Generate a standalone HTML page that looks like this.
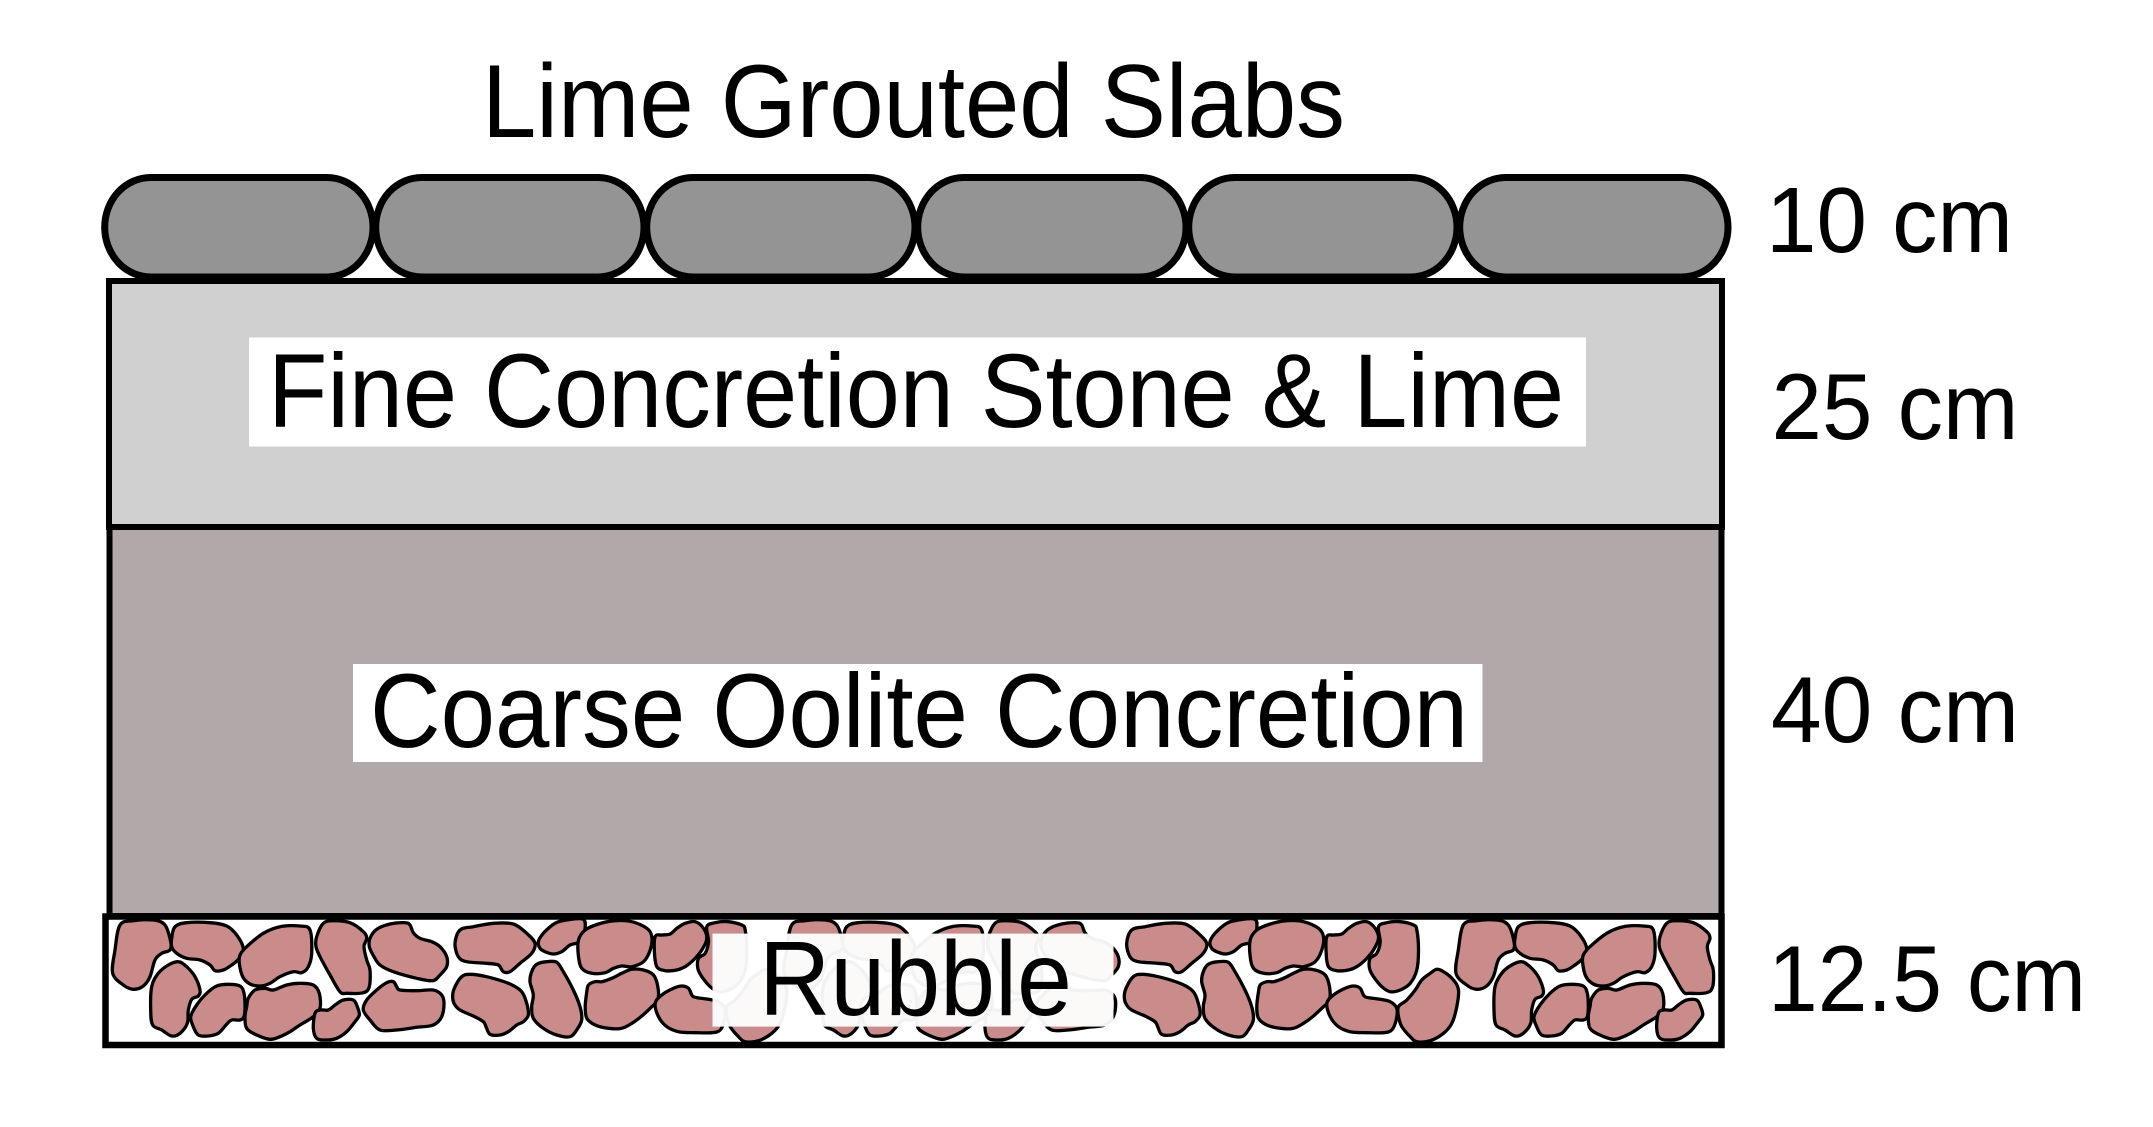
<!DOCTYPE html>
<html>
<head>
<meta charset="utf-8">
<style>
html,body{margin:0;padding:0;background:#fff;}
svg{display:block;}
text{font-family:"Liberation Sans", Arial, sans-serif;fill:#000;}
</style>
</head>
<body>
<svg id="s" width="2153" height="1127" viewBox="0 0 2153 1127" xmlns="http://www.w3.org/2000/svg">
<defs>
<clipPath id="rc"><rect x="108" y="919" width="1611" height="123"/></clipPath>
</defs>
<rect x="0" y="0" width="2153" height="1127" fill="#fff"/>

<!-- title -->
<text x="482" y="137" font-size="104" textLength="863" lengthAdjust="spacingAndGlyphs">Lime Grouted Slabs</text>

<!-- slabs -->
<g fill="#949494" stroke="#000" stroke-width="7">
<rect x="104.7" y="177.5" width="268.3" height="99.5" rx="46" ry="49.7"/>
<rect x="375.7" y="177.5" width="268.3" height="99.5" rx="46" ry="49.7"/>
<rect x="646.7" y="177.5" width="268.3" height="99.5" rx="46" ry="49.7"/>
<rect x="917.7" y="177.5" width="268.3" height="99.5" rx="46" ry="49.7"/>
<rect x="1188.7" y="177.5" width="268.3" height="99.5" rx="46" ry="49.7"/>
<rect x="1459.7" y="177.5" width="268.3" height="99.5" rx="46" ry="49.7"/>
</g>

<!-- fine layer -->
<rect x="109" y="281" width="1613" height="246" fill="#d0d0d0" stroke="#000" stroke-width="6"/>
<!-- coarse layer -->
<rect x="109.5" y="527" width="1612" height="389" fill="#b1a8a9" stroke="#000" stroke-width="6"/>
<!-- rubble layer fill -->
<rect x="105.5" y="916.5" width="1616" height="128.5" fill="#fff"/>
<g id="stones" clip-path="url(#rc)"></g>
<rect x="105.5" y="916.5" width="1616" height="128.5" fill="none" stroke="#000" stroke-width="6.5"/>

<!-- label boxes -->
<rect x="249" y="337.5" width="1337" height="109" fill="#fff"/>
<text x="268" y="427" font-size="105" textLength="1296" lengthAdjust="spacingAndGlyphs">Fine Concretion Stone &amp; Lime</text>

<rect x="353" y="664" width="1129.5" height="98" fill="#fff"/>
<text x="370" y="747" font-size="105" textLength="1098" lengthAdjust="spacingAndGlyphs">Coarse Oolite Concretion</text>

<rect x="712.5" y="933.6" width="401" height="93" fill="#fff" fill-opacity="0.95"/>
<text x="759" y="1015" font-size="106" textLength="313" lengthAdjust="spacingAndGlyphs">Rubble</text>

<!-- thickness labels -->
<text x="1766" y="252" font-size="93" textLength="247" lengthAdjust="spacingAndGlyphs">10 cm</text>
<text x="1771.5" y="439" font-size="94" textLength="247" lengthAdjust="spacingAndGlyphs">25 cm</text>
<text x="1771" y="742" font-size="94" textLength="248" lengthAdjust="spacingAndGlyphs">40 cm</text>
<text x="1768" y="1011" font-size="94" textLength="318" lengthAdjust="spacingAndGlyphs">12.5 cm</text>
</svg>

<script>
(function(){
var Z7={
A:[60,45,100,32,160,30,195,45,212,95,210,120,185,130,165,150,150,200,130,228,100,238,70,225,38,190,45,120],
B:[215,85,225,50,260,38,330,38,380,48,410,75,430,115,418,145,395,165,370,180,345,182,330,165,300,150,260,145,230,130,215,110],
C:[420,135,440,110,490,70,540,50,600,48,630,60,635,130,625,170,605,188,580,185,540,200,510,220,480,228,450,222,428,200,418,160],
D:[650,80,670,40,700,32,750,38,790,65,800,85,792,110,800,150,810,180,808,230,790,248,740,250,720,245,690,195,660,140,648,110],
E:[810,85,830,58,870,42,915,38,930,45,940,68,960,85,995,95,1020,110,1040,140,1040,170,1020,195,998,212,950,205,880,185,840,165,822,140,808,110],
F:[1065,100,1080,60,1120,50,1180,40,1240,42,1280,70,1305,100,1295,130,1260,160,1230,185,1210,185,1195,165,1160,160,1100,155,1075,140],
G:[1315,95,1330,70,1365,40,1400,30,1450,28,1455,60,1450,95,1430,100,1410,105,1385,125,1360,132,1335,125,1320,115],
I:[155,230,175,190,205,165,235,155,260,170,285,200,300,240,295,258,275,268,265,300,262,340,240,370,215,378,185,360,158,345,152,300],
J:[272,320,290,285,320,250,350,228,385,223,420,228,432,250,435,290,432,320,420,330,395,330,378,345,355,370,325,378,295,375,280,350],
K:[440,290,445,265,465,240,495,235,520,240,560,225,600,220,640,225,658,250,660,295,640,320,600,345,570,365,540,380,510,388,470,375,440,355,435,320],
L:[645,310,660,300,685,300,705,285,730,270,760,270,772,290,778,315,765,335,740,365,710,385,680,390,650,385,640,355],
M:[790,300,800,270,830,240,860,218,880,215,890,230,900,240,950,242,1000,240,1025,255,1032,280,1025,320,1000,345,950,352,890,360,840,360,810,330],
N:[1058,255,1065,230,1085,200,1110,193,1160,200,1230,222,1265,245,1280,280,1285,315,1270,335,1250,345,1225,365,1200,375,1170,373,1158,350,1150,335,1120,318,1080,300,1062,280],
O:[1290,215,1295,185,1310,163,1340,155,1370,157,1390,185,1420,240,1440,290,1445,330,1430,360,1410,380,1370,375,1330,355,1300,325,1295,290,1300,255]
};
var Z8={
H:[450,90,470,60,510,42,560,32,610,35,655,55,670,80,665,120,645,155,610,170,580,168,555,175,530,188,490,190,460,175,450,140],
P:[475,245,480,225,500,215,520,215,550,205,580,190,610,178,645,180,675,195,688,230,688,270,670,290,640,318,610,340,580,355,540,355,500,345,475,325,470,290],
Q:[680,80,700,75,725,72,745,55,770,40,800,35,825,55,835,85,820,120,795,150,770,170,745,180,710,182,685,170,678,130],
R:[835,50,860,38,900,35,940,45,950,60,955,120,950,180,930,220,900,240,870,245,845,230,820,200,808,175,810,145,830,130,840,95],
S:[680,280,700,255,735,235,760,228,780,235,790,255,800,262,840,268,870,275,890,295,888,330,875,360,850,368,800,368,750,365,715,350,690,320],
T:[895,290,920,270,945,240,965,210,990,190,1010,178,1030,185,1060,210,1075,240,1070,290,1055,340,1030,370,990,392,950,395,930,380,905,350,895,320]
};
var stones=[],k,a,i;
for(k in Z7){stones.push(Z7[k].slice());}
for(k in Z8){a=Z8[k].slice();for(i=0;i<a.length;i+=2){a[i]+=985.5;}stones.push(a);}
function f(n){return (Math.round(n*10)/10).toString();}
function pathOf(arr,dx){
  var pts=[],n,j,d;
  for(j=0;j<arr.length;j+=2){pts.push([100+(arr[j]+dx)/3,910+arr[j+1]/3]);}
  n=pts.length;
  d="M"+f(pts[0][0])+" "+f(pts[0][1]);
  for(j=0;j<n;j++){
    var p0=pts[(j-1+n)%n],p1=pts[j],p2=pts[(j+1)%n],p3=pts[(j+2)%n];
    var c1x=p1[0]+(p2[0]-p0[0])/6,c1y=p1[1]+(p2[1]-p0[1])/6;
    var c2x=p2[0]-(p3[0]-p1[0])/6,c2y=p2[1]-(p3[1]-p1[1])/6;
    d+="C"+f(c1x)+" "+f(c1y)+" "+f(c2x)+" "+f(c2y)+" "+f(p2[0])+" "+f(p2[1]);
  }
  return d+"Z";
}
var out="",offs=[0,2015,4030],t,s,minx;
for(t=0;t<offs.length;t++){
  for(s=0;s<stones.length;s++){
    minx=1e9;for(i=0;i<stones[s].length;i+=2){if(stones[s][i]<minx)minx=stones[s][i];}
    if(t===2&&minx>785)continue;
    out+='<path d="'+pathOf(stones[s],offs[t])+'"/>';
  }
}
var g=document.getElementById("stones");
g.setAttribute("fill","#c98c8b");g.setAttribute("stroke","#000");
g.setAttribute("stroke-width","3.3");g.setAttribute("stroke-linejoin","round");
g.innerHTML=out;
})();
</script>
</body>
</html>
